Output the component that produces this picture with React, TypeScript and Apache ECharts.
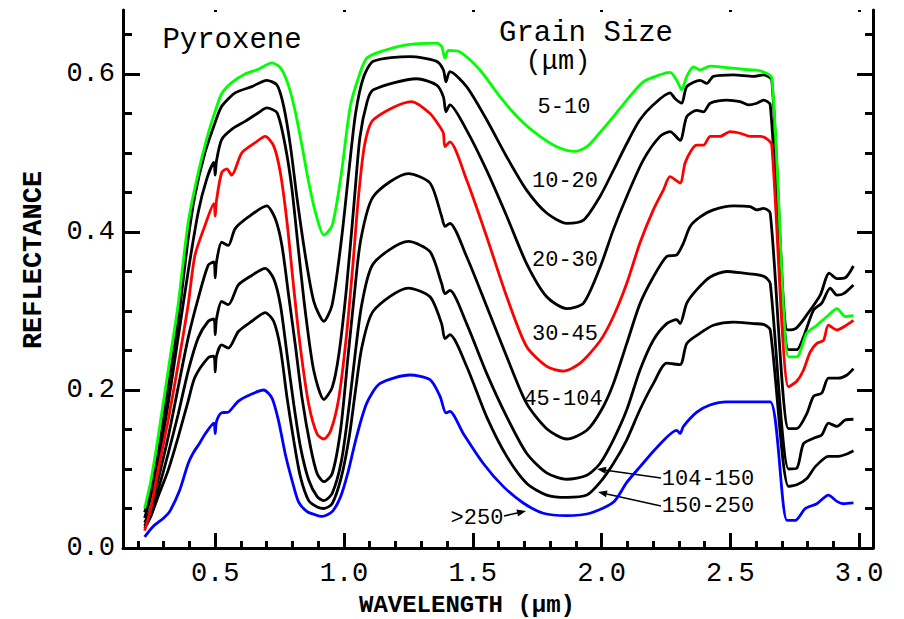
import { useEffect, useRef } from "react";
import * as echarts from "echarts";

const FONT = "'Liberation Mono', 'DejaVu Sans Mono', monospace";

// Axis ticks
const xMajorTicks = [0.5, 1.0, 1.5, 2.0, 2.5, 3.0];
const xMinorTicks = [0.2, 0.3, 0.4, 0.6, 0.7, 0.8, 0.9, 1.1, 1.2, 1.3, 1.4, 1.6, 1.7, 1.8, 1.9, 2.1, 2.2, 2.3, 2.4, 2.6, 2.7, 2.8, 2.9];
const yMajorTicks = [0.0, 0.2, 0.4, 0.6];
const yMinorTicks = [0.05, 0.1, 0.15, 0.25, 0.3, 0.35, 0.45, 0.5, 0.55, 0.65];

// Grain size classes (µm)
const grainSizes = ["5-10", "10-20", "20-30", "30-45", "45-104", "104-150", "150-250", ">250"];
const seriesColors = ["#00ff00", "#000000", "#000000", "#ff0000", "#000000", "#000000", "#000000", "#0000ff"];

// Reflectance spectra: [wavelength µm, reflectance]
const gs5to10 = [
  [0.226, 0.05], [0.25, 0.085], [0.278, 0.14], [0.317, 0.224], [0.356, 0.308], [0.395, 0.412], [0.434, 0.475], [0.467, 0.518], [0.499, 0.552], [0.525, 0.575], [0.564, 0.589], [0.616, 0.6], [0.668, 0.606], [0.72, 0.614], [0.753, 0.608], [0.785, 0.585], [0.811, 0.552], [0.837, 0.509], [0.863, 0.463], [0.889, 0.425], [0.922, 0.396], [0.954, 0.408], [0.988, 0.47], [1.025, 0.56], [1.062, 0.601], [1.088, 0.62], [1.139, 0.628], [1.243, 0.637], [1.36, 0.639], [1.379, 0.635], [1.392, 0.62], [1.405, 0.63], [1.45, 0.628], [1.528, 0.605], [1.606, 0.571], [1.684, 0.542], [1.761, 0.521], [1.826, 0.508], [1.897, 0.502], [1.943, 0.508], [1.994, 0.526], [2.046, 0.546], [2.098, 0.567], [2.162, 0.59], [2.227, 0.599], [2.266, 0.602], [2.292, 0.592], [2.311, 0.58], [2.331, 0.597], [2.357, 0.609], [2.383, 0.605], [2.422, 0.61], [2.486, 0.608], [2.551, 0.606], [2.616, 0.604], [2.661, 0.595], [2.726, 0.242], [2.758, 0.242], [2.797, 0.272], [2.836, 0.282], [2.875, 0.293], [2.914, 0.303], [2.946, 0.293], [2.978, 0.294],
];
const gs10to20 = [
  [0.226, 0.045], [0.25, 0.075], [0.278, 0.119], [0.317, 0.203], [0.356, 0.287], [0.395, 0.391], [0.421, 0.446], [0.46, 0.5], [0.499, 0.538], [0.525, 0.559], [0.577, 0.576], [0.642, 0.584], [0.7, 0.592], [0.74, 0.586], [0.766, 0.559], [0.792, 0.509], [0.818, 0.442], [0.85, 0.37], [0.883, 0.312], [0.922, 0.287], [0.954, 0.308], [0.99, 0.39], [1.02, 0.48], [1.045, 0.55], [1.075, 0.595], [1.114, 0.616], [1.256, 0.622], [1.36, 0.616], [1.386, 0.605], [1.396, 0.59], [1.411, 0.603], [1.476, 0.584], [1.554, 0.542], [1.632, 0.495], [1.709, 0.453], [1.787, 0.424], [1.865, 0.411], [1.93, 0.415], [1.994, 0.445], [2.046, 0.478], [2.098, 0.512], [2.149, 0.542], [2.201, 0.561], [2.266, 0.576], [2.285, 0.569], [2.311, 0.563], [2.331, 0.584], [2.383, 0.592], [2.409, 0.588], [2.434, 0.597], [2.512, 0.599], [2.59, 0.597], [2.629, 0.599], [2.661, 0.592], [2.722, 0.276], [2.755, 0.278], [2.797, 0.295], [2.849, 0.32], [2.884, 0.348], [2.914, 0.341], [2.946, 0.342], [2.978, 0.357],
];
const gs20to30 = [
  [0.226, 0.038], [0.25, 0.065], [0.278, 0.107], [0.317, 0.182], [0.356, 0.266], [0.395, 0.35], [0.434, 0.425], [0.467, 0.467], [0.495, 0.488], [0.5, 0.472], [0.505, 0.49], [0.525, 0.517], [0.564, 0.53], [0.616, 0.54], [0.668, 0.551], [0.7, 0.557], [0.74, 0.551], [0.772, 0.509], [0.798, 0.454], [0.824, 0.375], [0.85, 0.299], [0.883, 0.224], [0.922, 0.188], [0.954, 0.203], [0.98, 0.245], [1.01, 0.33], [1.04, 0.44], [1.062, 0.52], [1.09, 0.565], [1.114, 0.58], [1.282, 0.594], [1.36, 0.586], [1.386, 0.571], [1.396, 0.552], [1.411, 0.561], [1.476, 0.529], [1.554, 0.478], [1.632, 0.42], [1.709, 0.36], [1.787, 0.318], [1.865, 0.303], [1.93, 0.31], [1.994, 0.355], [2.046, 0.403], [2.098, 0.445], [2.162, 0.491], [2.227, 0.521], [2.266, 0.527], [2.305, 0.516], [2.331, 0.546], [2.37, 0.554], [2.396, 0.552], [2.422, 0.563], [2.486, 0.567], [2.538, 0.565], [2.57, 0.561], [2.603, 0.563], [2.629, 0.567], [2.655, 0.561], [2.726, 0.251], [2.758, 0.251], [2.784, 0.267], [2.823, 0.301], [2.855, 0.31], [2.888, 0.329], [2.914, 0.32], [2.94, 0.322], [2.978, 0.333],
];
const gs30to45 = [
  [0.226, 0.022], [0.25, 0.05], [0.278, 0.098], [0.317, 0.161], [0.356, 0.232], [0.395, 0.308], [0.421, 0.37], [0.46, 0.408], [0.495, 0.436], [0.5, 0.42], [0.505, 0.44], [0.525, 0.475], [0.545, 0.48], [0.564, 0.472], [0.603, 0.5], [0.655, 0.513], [0.694, 0.521], [0.727, 0.509], [0.753, 0.475], [0.779, 0.412], [0.805, 0.329], [0.831, 0.253], [0.863, 0.182], [0.896, 0.144], [0.922, 0.138], [0.948, 0.148], [0.98, 0.19], [1.01, 0.27], [1.035, 0.36], [1.055, 0.44], [1.08, 0.51], [1.114, 0.542], [1.262, 0.565], [1.334, 0.55], [1.373, 0.533], [1.386, 0.525], [1.392, 0.508], [1.411, 0.514], [1.476, 0.466], [1.554, 0.394], [1.632, 0.318], [1.709, 0.255], [1.787, 0.23], [1.852, 0.224], [1.917, 0.234], [1.994, 0.262], [2.046, 0.293], [2.098, 0.335], [2.149, 0.386], [2.201, 0.428], [2.24, 0.453], [2.266, 0.47], [2.305, 0.462], [2.324, 0.487], [2.35, 0.504], [2.37, 0.51], [2.396, 0.51], [2.422, 0.521], [2.46, 0.521], [2.499, 0.527], [2.538, 0.525], [2.577, 0.521], [2.616, 0.521], [2.642, 0.518], [2.661, 0.51], [2.726, 0.204], [2.758, 0.211], [2.784, 0.225], [2.81, 0.248], [2.836, 0.259], [2.862, 0.263], [2.881, 0.282], [2.914, 0.276], [2.946, 0.281], [2.978, 0.288],
];
const gs45to104 = [
  [0.226, 0.032], [0.25, 0.05], [0.278, 0.086], [0.317, 0.14], [0.356, 0.203], [0.395, 0.266], [0.434, 0.316], [0.473, 0.358], [0.495, 0.362], [0.5, 0.342], [0.505, 0.362], [0.525, 0.387], [0.551, 0.383], [0.577, 0.404], [0.629, 0.419], [0.7, 0.433], [0.733, 0.417], [0.759, 0.383], [0.785, 0.32], [0.811, 0.257], [0.837, 0.19], [0.87, 0.128], [0.896, 0.094], [0.922, 0.084], [0.954, 0.094], [0.987, 0.15], [1.015, 0.24], [1.04, 0.32], [1.065, 0.39], [1.114, 0.445], [1.25, 0.474], [1.334, 0.462], [1.379, 0.42], [1.392, 0.407], [1.411, 0.411], [1.476, 0.369], [1.554, 0.306], [1.632, 0.242], [1.709, 0.183], [1.787, 0.151], [1.865, 0.138], [1.943, 0.149], [2.0, 0.175], [2.046, 0.208], [2.098, 0.259], [2.149, 0.309], [2.201, 0.343], [2.253, 0.369], [2.292, 0.371], [2.318, 0.386], [2.344, 0.407], [2.383, 0.419], [2.434, 0.428], [2.512, 0.433], [2.577, 0.432], [2.603, 0.428], [2.629, 0.43], [2.655, 0.424], [2.726, 0.151], [2.758, 0.151], [2.797, 0.17], [2.823, 0.192], [2.855, 0.196], [2.881, 0.215], [2.92, 0.215], [2.953, 0.219], [2.978, 0.227],
];
const gs104to150 = [
  [0.226, 0.028], [0.25, 0.045], [0.278, 0.073], [0.317, 0.119], [0.356, 0.169], [0.395, 0.224], [0.434, 0.266], [0.473, 0.287], [0.495, 0.29], [0.5, 0.27], [0.505, 0.29], [0.525, 0.312], [0.551, 0.308], [0.59, 0.333], [0.642, 0.345], [0.694, 0.354], [0.727, 0.341], [0.753, 0.308], [0.779, 0.245], [0.805, 0.182], [0.831, 0.128], [0.863, 0.086], [0.896, 0.065], [0.922, 0.06], [0.954, 0.069], [0.99, 0.11], [1.02, 0.18], [1.045, 0.25], [1.07, 0.31], [1.114, 0.36], [1.25, 0.388], [1.334, 0.375], [1.379, 0.335], [1.392, 0.322], [1.411, 0.326], [1.476, 0.284], [1.554, 0.221], [1.632, 0.166], [1.709, 0.12], [1.787, 0.095], [1.865, 0.087], [1.943, 0.092], [1.994, 0.107], [2.046, 0.137], [2.098, 0.175], [2.149, 0.225], [2.201, 0.263], [2.253, 0.284], [2.292, 0.289], [2.305, 0.284], [2.331, 0.31], [2.37, 0.327], [2.422, 0.343], [2.486, 0.35], [2.551, 0.348], [2.603, 0.346], [2.635, 0.343], [2.655, 0.335], [2.726, 0.1], [2.758, 0.101], [2.784, 0.132], [2.823, 0.139], [2.855, 0.143], [2.881, 0.158], [2.914, 0.154], [2.946, 0.162], [2.978, 0.163],
];
const gs150to250 = [
  [0.226, 0.025], [0.25, 0.04], [0.278, 0.065], [0.317, 0.098], [0.356, 0.14], [0.395, 0.186], [0.421, 0.216], [0.473, 0.241], [0.495, 0.243], [0.5, 0.223], [0.505, 0.243], [0.525, 0.257], [0.551, 0.253], [0.59, 0.274], [0.642, 0.287], [0.694, 0.298], [0.727, 0.287], [0.753, 0.253], [0.779, 0.19], [0.805, 0.136], [0.831, 0.09], [0.863, 0.06], [0.896, 0.052], [0.922, 0.05], [0.954, 0.056], [0.99, 0.09], [1.02, 0.14], [1.045, 0.2], [1.07, 0.255], [1.114, 0.3], [1.25, 0.329], [1.334, 0.318], [1.379, 0.284], [1.392, 0.265], [1.411, 0.27], [1.476, 0.23], [1.554, 0.166], [1.632, 0.116], [1.709, 0.082], [1.787, 0.067], [1.865, 0.064], [1.943, 0.067], [1.994, 0.083], [2.046, 0.107], [2.098, 0.137], [2.149, 0.175], [2.201, 0.208], [2.253, 0.234], [2.305, 0.232], [2.331, 0.259], [2.383, 0.272], [2.434, 0.282], [2.512, 0.286], [2.59, 0.284], [2.629, 0.283], [2.655, 0.276], [2.726, 0.078], [2.758, 0.08], [2.797, 0.088], [2.83, 0.103], [2.881, 0.116], [2.92, 0.116], [2.953, 0.119], [2.978, 0.123],
];
const gsOver250 = [
  [0.226, 0.014], [0.258, 0.027], [0.3, 0.038], [0.323, 0.046], [0.362, 0.073], [0.395, 0.107], [0.414, 0.12], [0.44, 0.133], [0.46, 0.144], [0.495, 0.158], [0.5, 0.145], [0.505, 0.16], [0.524, 0.171], [0.551, 0.172], [0.59, 0.186], [0.642, 0.195], [0.688, 0.2], [0.72, 0.19], [0.746, 0.161], [0.772, 0.119], [0.798, 0.086], [0.824, 0.058], [0.857, 0.046], [0.889, 0.042], [0.915, 0.04], [0.954, 0.046], [0.987, 0.065], [1.015, 0.095], [1.049, 0.141], [1.088, 0.183], [1.139, 0.208], [1.256, 0.219], [1.334, 0.213], [1.373, 0.192], [1.396, 0.171], [1.411, 0.173], [1.463, 0.145], [1.541, 0.107], [1.618, 0.078], [1.696, 0.057], [1.774, 0.044], [1.864, 0.041], [1.955, 0.044], [2.046, 0.058], [2.098, 0.083], [2.15, 0.103], [2.214, 0.127], [2.292, 0.149], [2.305, 0.145], [2.318, 0.154], [2.37, 0.172], [2.421, 0.181], [2.486, 0.185], [2.577, 0.185], [2.655, 0.185], [2.72, 0.035], [2.752, 0.035], [2.791, 0.05], [2.836, 0.056], [2.881, 0.067], [2.914, 0.059], [2.94, 0.056], [2.978, 0.057],
];

const spectra = [gs5to10, gs10to20, gs20to30, gs30to45, gs45to104, gs104to150, gs150to250, gsOver250];

function arrow(x1: number, y1: number, x2: number, y2: number) {
  const dx = x2 - x1;
  const dy = y2 - y1;
  const len = Math.sqrt(dx * dx + dy * dy);
  const ux = dx / len;
  const uy = dy / len;
  const hl = 9;
  const hw = 3.5;
  const bx = x2 - ux * hl;
  const by = y2 - uy * hl;
  return [
    { type: "line", shape: { x1, y1, x2: bx, y2: by }, style: { stroke: "#000", lineWidth: 1.5 } },
    {
      type: "polygon",
      shape: { points: [[x2, y2], [bx - uy * hw, by + ux * hw], [bx + uy * hw, by - ux * hw]] },
      style: { fill: "#000" },
    },
  ];
}

function txt(text: string, x: number, y: number, size: number, weight = "normal", extra: any = {}) {
  return {
    type: "text",
    x,
    y,
    ...extra,
    style: {
      text,
      fill: "#000",
      font: `${weight} ${size}px ${FONT}`,
      align: "center",
      verticalAlign: "middle",
      textAlign: "center",
      textVerticalAlign: "middle",
    },
  };
}

export default function App() {
  const ref = useRef<HTMLDivElement>(null);
  useEffect(() => {
    if (!ref.current) return;
    const chart = echarts.init(ref.current, undefined, { renderer: "svg" });
    const xMin = 0.142;
    const xMax = 3.054;
    const yMin = 0;
    const yMax = 0.681;
    const axisLineStyle = { color: "#000", width: 3 };
    const tickStyle = { color: "#000", width: 3 };
    const hiddenLabel = { show: false };
    const labelStyle = { fontFamily: FONT, fontSize: 27, color: "#000" };

    const option: any = {
      animation: false,
      backgroundColor: "#fff",
      grid: { left: 123, right: 31, top: 10, bottom: 71, containLabel: false, outerBoundsMode: "none" },
      xAxis: [
        {
          type: "value", min: xMin, max: xMax, position: "bottom",
          axisLine: { show: true, onZero: false, lineStyle: axisLineStyle },
          axisTick: { show: true, inside: true, length: 15, customValues: xMajorTicks, lineStyle: tickStyle },
          axisLabel: { ...labelStyle, margin: 12, customValues: xMajorTicks, formatter: (v: number) => v.toFixed(1) },
          splitLine: { show: false },
        },
        {
          type: "value", min: xMin, max: xMax, position: "bottom",
          axisLine: { show: false, onZero: false },
          axisTick: { show: true, inside: true, length: 7, customValues: xMinorTicks, lineStyle: tickStyle },
          axisLabel: hiddenLabel, splitLine: { show: false },
        },
        {
          type: "value", min: xMin, max: xMax, position: "top",
          axisLine: { show: false, onZero: false },
          axisTick: { show: true, inside: true, length: 2, customValues: xMajorTicks, lineStyle: tickStyle },
          axisLabel: hiddenLabel, splitLine: { show: false },
        },
      ],
      yAxis: [
        {
          type: "value", min: yMin, max: yMax, position: "left",
          axisLine: { show: true, onZero: false, lineStyle: axisLineStyle },
          axisTick: { show: true, inside: true, length: 17, customValues: yMajorTicks, lineStyle: tickStyle },
          axisLabel: { ...labelStyle, margin: 8, customValues: yMajorTicks, formatter: (v: number) => v.toFixed(1) },
          splitLine: { show: false },
        },
        {
          type: "value", min: yMin, max: yMax, position: "left",
          axisLine: { show: false, onZero: false },
          axisTick: { show: true, inside: true, length: 9, customValues: yMinorTicks, lineStyle: tickStyle },
          axisLabel: hiddenLabel, splitLine: { show: false },
        },
        {
          type: "value", min: yMin, max: yMax, position: "right",
          axisLine: { show: true, onZero: false, lineStyle: axisLineStyle },
          axisTick: { show: true, inside: true, length: 16, customValues: yMajorTicks, lineStyle: tickStyle },
          axisLabel: hiddenLabel, splitLine: { show: false },
        },
        {
          type: "value", min: yMin, max: yMax, position: "right",
          axisLine: { show: false, onZero: false },
          axisTick: { show: true, inside: true, length: 8, customValues: yMinorTicks, lineStyle: tickStyle },
          axisLabel: hiddenLabel, splitLine: { show: false },
        },
      ],
      series: spectra.map((data, i) => ({
        name: grainSizes[i],
        type: "line",
        xAxisIndex: 0,
        yAxisIndex: 0,
        data,
        showSymbol: false,
        symbol: "none",
        smooth: 0.25,
        lineStyle: { color: seriesColors[i], width: 2.8 },
        itemStyle: { color: seriesColors[i] },
        z: i === 0 || i === 3 || i === 7 ? 3 : 2,
      })),
      graphic: [
        txt("REFLECTANCE", 34, 260, 27, "bold", { rotation: Math.PI / 2 }),
        txt("WAVELENGTH (μm)", 467, 605, 24, "bold"),
        txt("Pyroxene", 232, 40, 29),
        txt("Grain Size", 586, 33, 29),
        txt("(μm)", 558, 62, 27),
        txt(grainSizes[0], 564, 107, 22),
        txt(grainSizes[1], 565, 181, 22),
        txt(grainSizes[2], 565, 260, 22),
        txt(grainSizes[3], 565, 334, 22),
        txt(grainSizes[4], 563, 399, 22),
        txt(grainSizes[5], 708, 479, 22),
        txt(grainSizes[6], 708, 506, 22),
        txt(grainSizes[7], 477, 518, 22),
        ...arrow(661, 478, 597, 469),
        ...arrow(661, 506, 598, 492),
        ...arrow(504, 516, 526, 511),
      ],
    };
    chart.setOption(option);
    return () => chart.dispose();
  }, []);
  return <div ref={ref} style={{ width: 904, height: 619, position: "fixed", left: 0, top: 0 }} />;
}
